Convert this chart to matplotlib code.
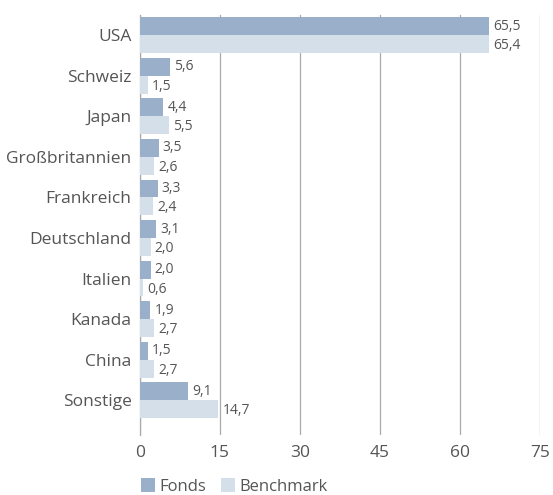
import matplotlib.pyplot as plt
import numpy as np

countries = ['USA', 'Schweiz', 'Japan', 'Großbritannien', 'Frankreich',
             'Deutschland', 'Italien', 'Kanada', 'China', 'Sonstige']
fonds = [65.5, 5.6, 4.4, 3.5, 3.3, 3.1, 2.0, 1.9, 1.5, 9.1]
benchmark = [65.4, 1.5, 5.5, 2.6, 2.4, 2.0, 0.6, 2.7, 2.7, 14.7]
xticks = [0, 15, 30, 45, 60, 75]

plt.rcParams['font.family'] = ['Open Sans', 'DejaVu Sans']
txt = '#555555'

fig = plt.figure(figsize=(5.53, 4.95), dpi=100)
ax = fig.add_axes([0.253, 0.121, 0.723, 0.849])

y = np.arange(len(countries))
h = 0.44
ax.barh(y - h / 2, fonds, height=h, color='#9AAFC9', label='Fonds', zorder=3)
ax.barh(y + h / 2, benchmark, height=h, color='#D5DFE9', label='Benchmark', zorder=3)

for i in range(len(countries)):
    ax.text(fonds[i] + 0.8, y[i] - h / 2, f'{fonds[i]:.1f}'.replace('.', ','),
            va='center', ha='left', fontsize=10, color=txt)
    ax.text(benchmark[i] + 0.8, y[i] + h / 2 + 0.04, f'{benchmark[i]:.1f}'.replace('.', ','),
            va='center', ha='left', fontsize=10, color=txt)

ax.set_xlim(0, 75)
ax.set_ylim(9.86, -0.5)
ax.set_xticks(xticks)
ax.set_xticklabels([str(t) for t in xticks], fontsize=12.5, color=txt)
ax.set_yticks(y)
ax.set_yticklabels(countries, fontsize=12.5, color=txt)
ax.tick_params(axis='both', length=0, pad=6)
ax.tick_params(axis='x', pad=7)
ax.grid(axis='x', color='#AAAAAA', linewidth=0.9, zorder=0)
for s in ['top', 'right', 'bottom']:
    ax.spines[s].set_visible(False)
ax.spines['left'].set_color('#AAAAAA')
ax.spines['left'].set_linewidth(0.9)

fig.legend(loc='lower left', bbox_to_anchor=(0.255, 0.0), ncol=2, frameon=False,
           fontsize=12, labelcolor=txt, handlelength=0.85, handleheight=0.9,
           handletextpad=0.25, columnspacing=0.9, borderpad=0, borderaxespad=0)

plt.savefig('out.png', dpi=100)
